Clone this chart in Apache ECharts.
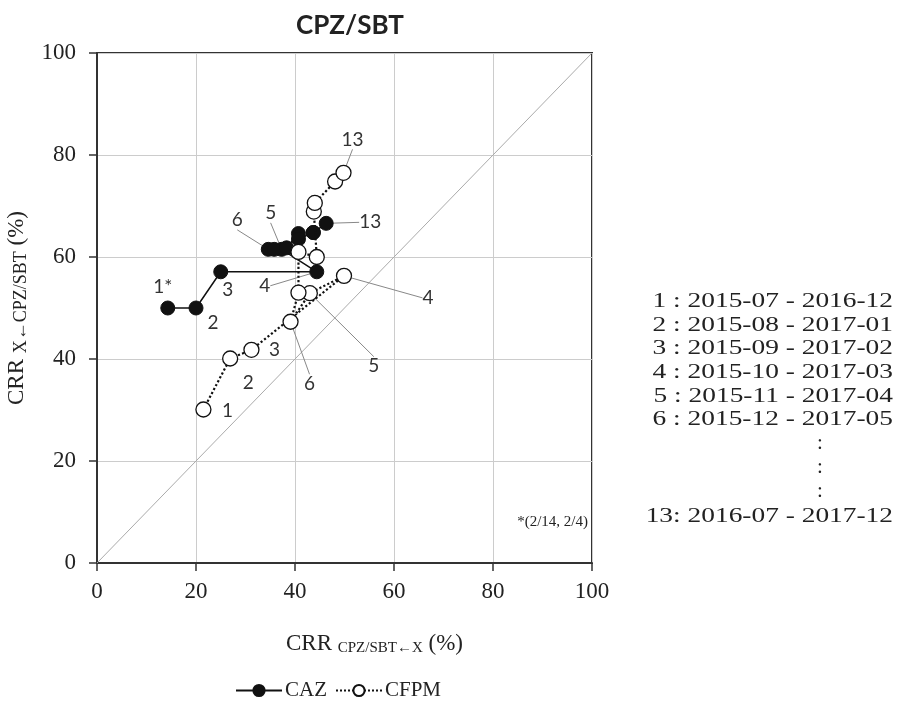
<!DOCTYPE html>
<html><head><meta charset="utf-8">
<script src="https://cdn.jsdelivr.net/npm/echarts@6/dist/echarts.min.js"></script>
<style>html,body{margin:0;padding:0;background:#fff}#c{width:912px;height:708px}</style>
</head><body><div id="c"></div>
<script>
// ---- data ----
const xTicks = [0, 20, 40, 60, 80, 100];
const yTicks = [0, 20, 40, 60, 80, 100];
const cazX = [14.3, 20.0, 25.0, 44.4, 37.3, 34.6, 35.8, 38.3, 40.7, 40.7, 43.7, 43.7, 46.3];
const cazY = [50.0, 50.0, 57.1, 57.1, 61.5, 61.5, 61.5, 61.8, 64.6, 63.5, 64.8, 64.8, 66.6];
const cfpmX = [21.5, 26.9, 31.2, 49.9, 43.0, 39.1, 40.7, 40.7, 44.4, 43.8, 44.0, 48.1, 49.8];
const cfpmY = [30.1, 40.1, 41.8, 56.3, 52.9, 47.3, 53.0, 61.0, 60.0, 68.9, 70.6, 74.8, 76.5];
const cazLabels = ['1*', '2', '3', '4', '5', '6', '', '', '', '', '', '', '13'];
const cfpmLabels = ['1', '2', '3', '4', '5', '6', '', '', '', '', '', '', '13'];
const periodLines = ['1 : 2015-07 - 2016-12', '2 : 2015-08 - 2017-01', '3 : 2015-09 - 2017-02',
  '4 : 2015-10 - 2017-03', '5 : 2015-11 - 2017-04', '6 : 2015-12 - 2017-05'];
const lastPeriod = '13: 2016-07 - 2017-12';
const footnote = '*(2/14, 2/4)';

// ---- label placement (style) ----
const cazOff = {0: [-5, -21, 0], 1: [17, 15, 0], 2: [7, 18, 0], 3: [-52, 14, 1], 4: [-11, -36, 1], 5: [-31, -29, 1], 12: [44, -1, 1]};
const cfpmOff = {0: [24, 1, 0], 1: [18, 24, 0], 2: [23, 0, 0], 3: [84, 22, 1], 4: [64, 73, 1], 5: [19, 62, 1], 12: [9, -33, 1]};

const SERIF = '"Liberation Serif", "DejaVu Serif", serif';
const SANS = 'Lato, "Open Sans", sans-serif';

function build(xs, ys, labels, offs) {
  return xs.map((x, i) => ({
    value: [x, ys[i]],
    label: {show: labels[i] !== ''},
    labelLine: {show: !!(offs[i] && offs[i][2])}
  }));
}

const chart = echarts.init(document.getElementById('c'), null, {renderer: 'canvas'});

function layoutFor(offs) {
  return function (p) {
    const o = offs[p.dataIndex];
    if (!o) return {};
    return {dx: o[0], dy: o[1]};
  };
}

const labelCommon = {position: 'inside', color: '#333', fontFamily: SANS, fontSize: 19};
const labelLineCommon = {lineStyle: {color: '#888', width: 1}, length2: 0};

function listText(t, y) {
  return {
    type: 'text', x: 893, y: y, scaleX: 1.37,
    style: {text: t, fontFamily: SERIF, fontSize: 20, fill: '#222', textAlign: 'right', textVerticalAlign: 'middle'}
  };
}

chart.setOption({
  animation: false,
  backgroundColor: '#fff',
  title: {
    text: 'CPZ/SBT', left: 345, top: 8, textAlign: 'center',
    textStyle: {fontFamily: SANS, fontWeight: 'bold', fontSize: 26, color: '#222'}
  },
  grid: {left: 97, right: 320, top: 53, bottom: 145, show: true, borderColor: '#333', borderWidth: 2,
    containLabel: false, outerBoundsMode: 'none'},
  xAxis: {
    type: 'value', min: 0, max: 100, interval: 20,
    name: '{m|CRR }{s|CPZ/SBT←X}{m| (%)}', nameLocation: 'middle', nameGap: 68,
    nameTextStyle: {padding: [0, 0, 0, 60], rich: {
      m: {fontFamily: SERIF, fontSize: 23, color: '#222'},
      s: {fontFamily: SERIF, fontSize: 15, color: '#222', verticalAlign: 'bottom', padding: [10, 0, 0, 0]}
    }},
    axisLine: {lineStyle: {color: '#333', width: 2}},
    axisTick: {show: true, length: 8, lineStyle: {color: '#333', width: 1.5}},
    axisLabel: {fontFamily: SERIF, fontSize: 23, color: '#222', margin: 17,
      formatter: v => xTicks.includes(v) ? String(v) : ''},
    splitLine: {show: true, lineStyle: {color: '#ccc', width: 1}}
  },
  yAxis: {
    type: 'value', min: 0, max: 100, interval: 20,
    name: '{m|CRR }{s|X←CPZ/SBT}{m| (%)}', nameLocation: 'middle', nameGap: 62, nameRotate: 90,
    nameTextStyle: {rich: {
      m: {fontFamily: SERIF, fontSize: 23, color: '#222'},
      s: {fontFamily: SERIF, fontSize: 18, color: '#222', verticalAlign: 'bottom', padding: [10, 0, 0, 0]}
    }},
    axisLine: {lineStyle: {color: '#333', width: 2}},
    axisTick: {show: true, length: 8, lineStyle: {color: '#333', width: 1.5}},
    axisLabel: {fontFamily: SERIF, fontSize: 23, color: '#222', margin: 21,
      formatter: v => yTicks.includes(v) ? String(v) : ''},
    splitLine: {show: true, lineStyle: {color: '#ccc', width: 1}}
  },
  legend: {
    data: ['CAZ', 'CFPM'], left: 230, top: 675, itemWidth: 46, itemHeight: 14, itemGap: 8,
    textStyle: {fontFamily: SERIF, fontSize: 21, color: '#222', padding: [0, 0, 0, -2]}
  },
  graphic: [
    ...periodLines.map((t, i) => listText(t, 302 + i * 23.6)),
    ...[0, 1, 2].map(i => ({
      type: 'text', x: 820, y: 443 + i * 24,
      style: {text: ':', fontFamily: SERIF, fontSize: 21, fill: '#222', textAlign: 'center', textVerticalAlign: 'middle'}
    })),
    listText(lastPeriod, 517),
    {type: 'text', x: 588, y: 522, style: {text: footnote, fontFamily: SERIF, fontSize: 15, fill: '#222', textAlign: 'right', textVerticalAlign: 'middle'}}
  ],
  series: [
    {
      name: 'diag', type: 'line', silent: true, symbol: 'none', z: 1,
      data: [[0, 0], [100, 100]], lineStyle: {color: '#aaa', width: 1}
    },
    {
      name: 'CAZ', type: 'line', symbol: 'circle', symbolSize: 14, z: 3,
      data: build(cazX, cazY, cazLabels, cazOff),
      itemStyle: {color: '#111', borderColor: '#111', borderWidth: 1},
      lineStyle: {color: '#111', width: 1.5},
      label: Object.assign({formatter: p => cazLabels[p.dataIndex]}, labelCommon),
      labelLine: labelLineCommon,
      labelLayout: layoutFor(cazOff)
    },
    {
      name: 'CFPM', type: 'line', symbol: 'circle', symbolSize: 15, z: 4,
      data: build(cfpmX, cfpmY, cfpmLabels, cfpmOff),
      itemStyle: {color: '#fff', borderColor: '#111', borderWidth: 1.3},
      lineStyle: {color: '#111', width: 2.2, type: 'dotted'},
      label: Object.assign({formatter: p => cfpmLabels[p.dataIndex]}, labelCommon),
      labelLine: labelLineCommon,
      labelLayout: layoutFor(cfpmOff)
    }
  ]
});
</script></body></html>
